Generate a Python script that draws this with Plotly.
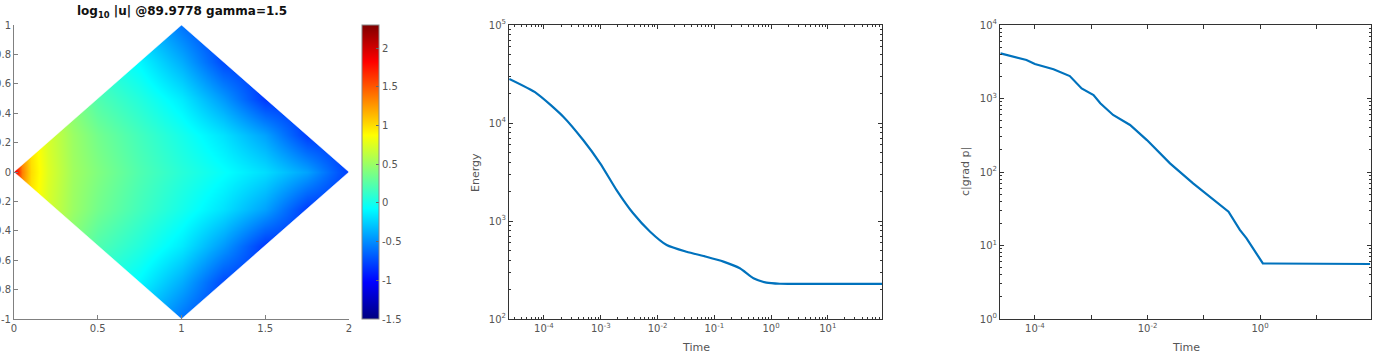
import plotly.graph_objects as go

W, H = 1380, 357

# ---------------- data ----------------
# heatmap grid (log10 |u|)
GRID_X = [0, 0.05, 0.1, 0.2, 0.35, 0.5, 0.75, 1.0, 1.25, 1.5, 1.75, 2.0]
GRID_Y = [-1, -0.75, -0.5, -0.25, 0, 0.25, 0.5, 0.75, 1]
LOGU = [
    [0.35, 0.35, 0.3, 0.2, 0.1, -0.05, -0.3, -0.6, -0.85, -0.85, -0.85, -0.85],
    [0.7, 0.6, 0.5, 0.4, 0.2, 0.08, -0.1, -0.38, -0.75, -0.85, -0.85, -0.85],
    [1.0, 0.9, 0.8, 0.6, 0.4, 0.22, 0.05, -0.15, -0.45, -0.82, -0.85, -0.85],
    [1.4, 1.2, 0.95, 0.72, 0.5, 0.35, 0.17, 0.0, -0.18, -0.42, -0.8, -0.85],
    [2.0, 1.35, 1.0, 0.75, 0.52, 0.4, 0.22, 0.07, -0.06, -0.2, -0.42, -0.8],
    [1.4, 1.2, 0.95, 0.72, 0.5, 0.35, 0.17, 0.0, -0.18, -0.42, -0.8, -0.85],
    [1.0, 0.9, 0.8, 0.6, 0.4, 0.22, 0.05, -0.15, -0.45, -0.82, -0.85, -0.85],
    [0.7, 0.6, 0.5, 0.4, 0.2, 0.08, -0.1, -0.38, -0.75, -0.85, -0.85, -0.85],
    [0.35, 0.35, 0.3, 0.2, 0.1, -0.05, -0.3, -0.6, -0.85, -0.85, -0.85, -0.85],
]
DIAMOND_X = [0, 1, 2, 1]
DIAMOND_Y = [0, 1, 0, -1]
CMIN, CMAX = -1.5, 2.3
CBAR_TICKS = [-1.5, -1, -0.5, 0, 0.5, 1, 1.5, 2]
LEFT_XTICKS = [0, 0.5, 1, 1.5, 2]
LEFT_YTICKS = [-1, -0.8, -0.6, -0.4, -0.2, 0, 0.2, 0.4, 0.6, 0.8, 1]
LEFT_YTEXT = ["-1", "-0.8", "-0.6", "-0.4", "-0.2", "0", "0.2", "0.4", "0.6", "0.8", "1"]

E_TIME = [2.45e-5, 7.41e-5, 2.19e-4, 4.9e-4, 9.77e-4, 1.9e-3, 3.72e-3, 7.41e-3,
          1.45e-2, 3.24e-2, 7.24e-2, 0.145, 0.282, 0.49, 0.83, 1.43, 5.0, 89.98]
ENERGY = [28100, 20100, 11600, 6700, 3880, 2070, 1200, 778,
          569, 486, 432, 385, 329, 260, 235, 229, 228, 228]

G_TIME = [2.45e-5, 7.08e-5, 1.0e-4, 2.14e-4, 4.17e-4, 4.79e-4, 6.76e-4, 1.1e-3,
          1.45e-3, 2.45e-3, 4.9e-3, 9.77e-3, 0.0251, 0.0646, 0.148, 0.275,
          0.437, 0.575, 1.12, 89.98]
GRADP = [4120, 3340, 2950, 2500, 2020, 1790, 1370, 1116,
         860, 597, 436, 272, 131, 70, 41.6, 28.8,
         16.3, 12.5, 5.7, 5.6]

MID_XTICKS = [1e-4, 1e-3, 1e-2, 1e-1, 1, 10]
MID_XTEXT = ["10<sup>-4</sup>", "10<sup>-3</sup>", "10<sup>-2</sup>", "10<sup>-1</sup>", "10<sup>0</sup>", "10<sup>1</sup>"]
MID_YTICKS = [1e2, 1e3, 1e4, 1e5]
MID_YTEXT = ["10<sup>2</sup>", "10<sup>3</sup>", "10<sup>4</sup>", "10<sup>5</sup>"]
R_XTICKS = [1e-4, 1e-2, 1]
R_XTEXT = ["10<sup>-4</sup>", "10<sup>-2</sup>", "10<sup>0</sup>"]
R_XMINOR = [1e-3, 1e-1, 10]
R_YTICKS = [1, 10, 100, 1000, 10000]
R_YTEXT = ["10<sup>0</sup>", "10<sup>1</sup>", "10<sup>2</sup>", "10<sup>3</sup>", "10<sup>4</sup>"]

JET = [[0, "rgb(0,0,128)"], [0.125, "rgb(0,0,255)"], [0.375, "rgb(0,255,255)"],
       [0.625, "rgb(255,255,0)"], [0.875, "rgb(255,0,0)"], [1, "rgb(128,0,0)"]]

# ---------------- layout geometry (pixels) ----------------
def px(x):
    return x / W

def py(y):
    return 1 - y / H

TOP, BOT = 25, 319
FONT = "DejaVu Sans"
TICKC = "#555555"
LINE = "#0072BD"

fig = go.Figure()

fig.add_trace(go.Heatmap(
    x=GRID_X, y=GRID_Y, z=LOGU, zsmooth="best", colorscale=JET,
    zmin=CMIN, zmax=CMAX, xaxis="x", yaxis="y", hoverinfo="skip",
    colorbar=dict(
        x=px(362), xanchor="left", xref="paper", xpad=0, ypad=0,
        y=py((TOP + BOT) / 2), yanchor="middle", len=(BOT - TOP) / H, lenmode="fraction",
        thickness=17, thicknessmode="pixels",
        tickvals=CBAR_TICKS, ticktext=[("%g" % v) for v in CBAR_TICKS],
        ticks="inside", ticklen=3, tickcolor="#666666",
        tickfont=dict(family=FONT, size=10, color=TICKC),
        outlinewidth=1, outlinecolor="#888888",
    ),
))

# white masks outside the diamond (corners of the axes box)
box_x = [min(GRID_X), max(GRID_X)]
box_y = [min(GRID_Y), max(GRID_Y)]
corners = [(box_x[0], box_y[1]), (box_x[1], box_y[1]), (box_x[1], box_y[0]), (box_x[0], box_y[0])]
for i in range(4):
    a = (DIAMOND_X[i], DIAMOND_Y[i])
    b = (DIAMOND_X[(i + 1) % 4], DIAMOND_Y[(i + 1) % 4])
    c = corners[i]
    fig.add_trace(go.Scatter(
        x=[a[0], c[0], b[0], a[0]], y=[a[1], c[1], b[1], a[1]],
        fill="toself", fillcolor="white", mode="lines",
        line=dict(width=0.5, color="white"), hoverinfo="skip", showlegend=False,
        xaxis="x", yaxis="y",
    ))

fig.add_trace(go.Scatter(x=E_TIME, y=ENERGY, mode="lines",
                         line=dict(color=LINE, width=2.2, shape="spline", smoothing=0.6),
                         xaxis="x2", yaxis="y2", showlegend=False))
fig.add_trace(go.Scatter(x=G_TIME, y=GRADP, mode="lines",
                         line=dict(color=LINE, width=2.2),
                         xaxis="x3", yaxis="y3", showlegend=False))

ydom = [py(BOT), py(TOP)]
minor_log = [m * 10 ** e for e in range(-6, 6) for m in range(2, 10)]

common_tick = dict(tickfont=dict(family=FONT, size=10, color=TICKC), showgrid=False,
                   zeroline=False, ticks="inside", automargin=False)

fig.update_layout(
    width=W, height=H, margin=dict(l=0, r=0, t=0, b=0, autoexpand=False),
    paper_bgcolor="white", plot_bgcolor="white", showlegend=False,
    xaxis=dict(domain=[px(14), px(349)], range=[0, 2], tickvals=LEFT_XTICKS,
               ticktext=[("%g" % v) for v in LEFT_XTICKS],
               showline=True, linecolor="#808080", linewidth=1, ticklen=4, tickcolor="#808080",
               mirror=False, **common_tick),
    yaxis=dict(domain=ydom, range=[-1, 1], tickvals=LEFT_YTICKS, ticktext=LEFT_YTEXT,
               showline=True, linecolor="#808080", linewidth=1, ticklen=4, tickcolor="#808080",
               mirror=False, **common_tick),
    xaxis2=dict(domain=[px(509), px(882)], type="log", range=[-4.616, 1.954],
                tickvals=MID_XTICKS, ticktext=MID_XTEXT,
                showline=True, linecolor="#333333", linewidth=1, mirror="allticks",
                ticklen=4, tickcolor="#333333",
                minor=dict(tickvals=minor_log, ticks="inside", ticklen=2, tickcolor="#333333"),
                anchor="y2", **common_tick),
    yaxis2=dict(domain=ydom, type="log", range=[2, 5],
                tickvals=MID_YTICKS, ticktext=MID_YTEXT,
                showline=True, linecolor="#333333", linewidth=1, mirror="allticks",
                ticklen=4, tickcolor="#333333",
                minor=dict(tickvals=minor_log, ticks="inside", ticklen=2, tickcolor="#333333"),
                anchor="x2", **common_tick),
    xaxis3=dict(domain=[px(1000), px(1371)], type="log", range=[-4.62, 1.97],
                tickvals=R_XTICKS, ticktext=R_XTEXT,
                showline=True, linecolor="#333333", linewidth=1, mirror="allticks",
                ticklen=4, tickcolor="#333333",
                minor=dict(tickvals=R_XMINOR, ticks="inside", ticklen=4, tickcolor="#333333"),
                anchor="y3", **common_tick),
    yaxis3=dict(domain=ydom, type="log", range=[0, 4],
                tickvals=R_YTICKS, ticktext=R_YTEXT,
                showline=True, linecolor="#333333", linewidth=1, mirror="allticks",
                ticklen=4, tickcolor="#333333",
                minor=dict(tickvals=minor_log, ticks="inside", ticklen=2, tickcolor="#333333"),
                anchor="x3", **common_tick),
)

ann_font = dict(family=FONT, size=11, color=TICKC)
fig.add_annotation(x=px(181.5), y=py(12), xref="paper", yref="paper", showarrow=False,
                   text="<b>log<sub>10</sub> |u| @89.9778 gamma=1.5</b>",
                   font=dict(family=FONT, size=12, color="#111111"),
                   xanchor="center", yanchor="middle")
fig.add_annotation(x=px(475), y=py(172), xref="paper", yref="paper", showarrow=False,
                   text="Energy", textangle=-90, font=ann_font, xanchor="center", yanchor="middle")
fig.add_annotation(x=px(695.5), y=py(347), xref="paper", yref="paper", showarrow=False,
                   text="Time", font=ann_font, xanchor="center", yanchor="middle")
fig.add_annotation(x=px(965), y=py(172), xref="paper", yref="paper", showarrow=False,
                   text="c|grad p|", textangle=-90, font=ann_font, xanchor="center", yanchor="middle")
fig.add_annotation(x=px(1185.5), y=py(347), xref="paper", yref="paper", showarrow=False,
                   text="Time", font=ann_font, xanchor="center", yanchor="middle")

fig.write_html("out.html")
